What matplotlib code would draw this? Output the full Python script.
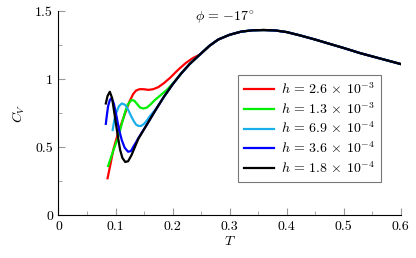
import matplotlib
matplotlib.use("Agg")
import matplotlib.pyplot as plt
from matplotlib.ticker import MultipleLocator

plt.rcParams['font.family'] = 'serif'
plt.rcParams['font.serif'] = ['cmr10']
plt.rcParams['mathtext.fontset'] = 'cm'
plt.rcParams['axes.formatter.use_mathtext'] = True
plt.rcParams['font.size'] = 10

# common high-T part shared by all curves
tail_T = [0.248, 0.265, 0.28, 0.3, 0.32, 0.34, 0.36, 0.38, 0.4, 0.424, 0.45, 0.47, 0.5, 0.529, 0.56, 0.6]
tail_C = [1.18, 1.245, 1.29, 1.325, 1.348, 1.358, 1.36, 1.357, 1.345, 1.32, 1.29, 1.265, 1.228, 1.19, 1.155, 1.11]

red_T = [0.086, 0.091, 0.096, 0.105, 0.117, 0.124, 0.131, 0.136, 0.142, 0.149, 0.158, 0.166, 0.175, 0.185, 0.196, 0.205, 0.213, 0.223, 0.235]
red_C = [0.27, 0.37, 0.478, 0.61, 0.75, 0.83, 0.89, 0.915, 0.925, 0.925, 0.92, 0.925, 0.94, 0.97, 1.01, 1.048, 1.08, 1.117, 1.152]

green_T = [0.087, 0.095, 0.105, 0.111, 0.117, 0.122, 0.128, 0.133, 0.138, 0.143, 0.149, 0.155, 0.162, 0.169, 0.176, 0.183, 0.19, 0.2, 0.215, 0.23]
green_C = [0.36, 0.46, 0.576, 0.67, 0.76, 0.815, 0.846, 0.84, 0.815, 0.79, 0.783, 0.79, 0.815, 0.846, 0.87, 0.895, 0.92, 0.965, 1.04, 1.11]

cyan_T = [0.095, 0.098, 0.102, 0.106, 0.111, 0.117, 0.122, 0.127, 0.132, 0.136, 0.14, 0.145, 0.15, 0.155, 0.16, 0.17, 0.185, 0.2, 0.215, 0.23]
cyan_C = [0.625, 0.70, 0.76, 0.80, 0.82, 0.81, 0.775, 0.73, 0.69, 0.665, 0.655, 0.655, 0.67, 0.695, 0.725, 0.775, 0.87, 0.96, 1.04, 1.11]

blue_T = [0.083, 0.085, 0.087, 0.09, 0.093, 0.097, 0.102, 0.106, 0.111, 0.116, 0.122, 0.127, 0.131, 0.136, 0.14, 0.155, 0.17, 0.185, 0.2, 0.215, 0.23]
blue_C = [0.67, 0.74, 0.80, 0.845, 0.86, 0.82, 0.72, 0.63, 0.55, 0.495, 0.465, 0.47, 0.50, 0.535, 0.565, 0.665, 0.77, 0.87, 0.96, 1.04, 1.11]

black_T = [0.083, 0.086, 0.09, 0.094, 0.099, 0.104, 0.108, 0.112, 0.117, 0.122, 0.128, 0.134, 0.14, 0.155, 0.17, 0.185, 0.2, 0.215, 0.23]
black_C = [0.82, 0.875, 0.906, 0.86, 0.72, 0.58, 0.48, 0.42, 0.39, 0.395, 0.44, 0.50, 0.56, 0.665, 0.77, 0.87, 0.96, 1.04, 1.11]

labels = [r'$h\,=\,2.6\,\times\,10^{-3}$', r'$h\,=\,1.3\,\times\,10^{-3}$', r'$h\,=\,6.9\,\times\,10^{-4}$',
          r'$h\,=\,3.6\,\times\,10^{-4}$', r'$h\,=\,1.8\,\times\,10^{-4}$']
colors = ['#ff0000', '#00ee00', '#1aaeea', '#0000ff', '#000000']
series = [(red_T, red_C), (green_T, green_C), (cyan_T, cyan_C), (blue_T, blue_C), (black_T, black_C)]

fig = plt.figure(figsize=(4.16, 2.58), dpi=100)
ax = fig.add_axes([0.1406, 0.1667, 0.8226, 0.7907])

for (T, C), col, lab in zip(series, colors, labels):
    ax.plot(T + tail_T, C + tail_C, color=col, lw=1.6, label=lab, solid_joinstyle='round')

ax.set_xlim(0, 0.6)
ax.set_ylim(0, 1.5)
ax.xaxis.set_minor_locator(MultipleLocator(0.05))
ax.yaxis.set_minor_locator(MultipleLocator(0.25))
ax.set_xticks([0, 0.1, 0.2, 0.3, 0.4, 0.5, 0.6])
ax.set_xticklabels(['0', '0.1', '0.2', '0.3', '0.4', '0.5', '0.6'])
ax.set_yticks([0, 0.5, 1, 1.5])
ax.set_yticklabels(['0', '0.5', '1', '1.5'])
ax.tick_params(which='both', direction='in', color='#999999')
ax.tick_params(which='major', length=5, pad=4)
ax.tick_params(which='minor', length=3)
ax.spines['top'].set_visible(False)
ax.spines['right'].set_visible(False)
ax.spines['left'].set_linewidth(0.8)
ax.spines['bottom'].set_linewidth(0.8)

ax.set_xlabel(r'$T$', labelpad=2)
ax.set_ylabel(r'$C_V$', labelpad=6)
ax.text(0.292, 1.455, r'$\phi\,=\,{-}17^{\circ}$', ha='center', va='center')

leg = ax.legend(loc='upper left', bbox_to_anchor=(0.503, 0.72), frameon=True, fancybox=False,
                edgecolor='#555555', handlelength=2.2, labelspacing=0.3, borderpad=0.45,
                handletextpad=0.5)
leg.get_frame().set_linewidth(0.8)

fig.savefig('out.png', dpi=100)
